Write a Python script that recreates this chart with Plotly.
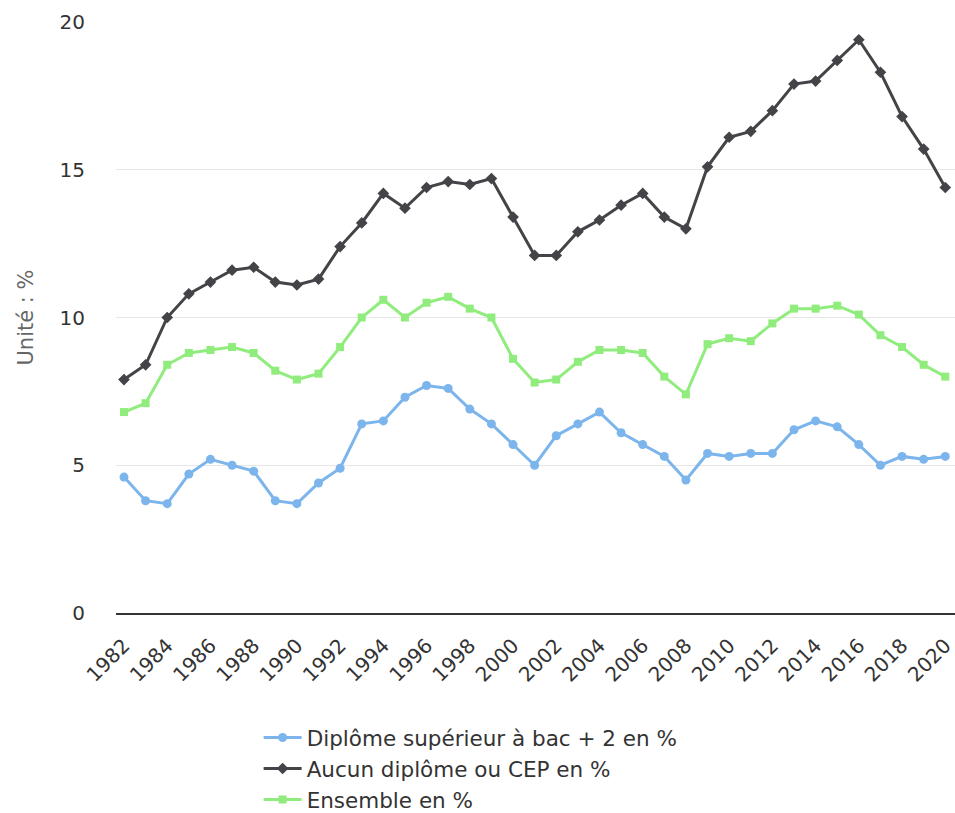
import plotly.graph_objects as go

years = list(range(1982, 2021))
bac2 = [4.6, 3.8, 3.7, 4.7, 5.2, 5.0, 4.8, 3.8, 3.7, 4.4, 4.9, 6.4, 6.5,
        7.3, 7.7, 7.6, 6.9, 6.4, 5.7, 5.0, 6.0, 6.4, 6.8, 6.1, 5.7, 5.3,
        4.5, 5.4, 5.3, 5.4, 5.4, 6.2, 6.5, 6.3, 5.7, 5.0, 5.3, 5.2, 5.3]
aucun = [7.9, 8.4, 10.0, 10.8, 11.2, 11.6, 11.7, 11.2, 11.1, 11.3, 12.4, 13.2, 14.2,
         13.7, 14.4, 14.6, 14.5, 14.7, 13.4, 12.1, 12.1, 12.9, 13.3, 13.8, 14.2, 13.4,
         13.0, 15.1, 16.1, 16.3, 17.0, 17.9, 18.0, 18.7, 19.4, 18.3, 16.8, 15.7, 14.4]
ensemble = [6.8, 7.1, 8.4, 8.8, 8.9, 9.0, 8.8, 8.2, 7.9, 8.1, 9.0, 10.0, 10.6,
            10.0, 10.5, 10.7, 10.3, 10.0, 8.6, 7.8, 7.9, 8.5, 8.9, 8.9, 8.8, 8.0,
            7.4, 9.1, 9.3, 9.2, 9.8, 10.3, 10.3, 10.4, 10.1, 9.4, 9.0, 8.4, 8.0]
tick_years = list(range(1982, 2021, 2))
y_ticks = [0, 5, 10, 15, 20]

FONT = "DejaVu Sans"

fig = go.Figure()
fig.add_trace(go.Scatter(x=years, y=bac2, mode="lines+markers",
                         name="Diplôme supérieur à bac + 2 en %",
                         line=dict(color="#7cb5ec", width=3),
                         marker=dict(symbol="circle", size=9, color="#7cb5ec")))
fig.add_trace(go.Scatter(x=years, y=aucun, mode="lines+markers",
                         name="Aucun diplôme ou CEP en %",
                         line=dict(color="#434348", width=3),
                         marker=dict(symbol="diamond", size=9, color="#434348")))
fig.add_trace(go.Scatter(x=years, y=ensemble, mode="lines+markers",
                         name="Ensemble en %",
                         line=dict(color="#90ed7d", width=3),
                         marker=dict(symbol="square", size=8, color="#90ed7d")))

fig.update_layout(
    width=955, height=813,
    margin=dict(l=116, r=0, t=22, b=200),
    paper_bgcolor="white", plot_bgcolor="white",
    font=dict(family=FONT, color="#333333"),
    showlegend=True,
    legend=dict(orientation="v", x=0.17, xanchor="left",
                yref="container", y=0.118, yanchor="top",
                font=dict(size=21.5, color="#333333"), tracegroupgap=0,
                itemwidth=38),
    xaxis=dict(range=[1981.63, 2020.45], tickmode="array", tickvals=tick_years,
               ticktext=[str(y) for y in tick_years], tickangle=-45,
               tickfont=dict(size=20, color="#333333"), showgrid=False,
               showline=True, linecolor="#333333", linewidth=2, zeroline=False,
               ticks="", automargin=False, ticklabelstandoff=11,
               ticklabeloverflow="allow"),
    yaxis=dict(range=[0, 20], tickmode="array", tickvals=y_ticks,
               tickfont=dict(size=20, color="#333333"),
               gridcolor="#e6e6e6", gridwidth=1, zeroline=False, showline=False,
               ticklabelstandoff=30, automargin=False,
               title=dict(text="Unité : %", font=dict(size=21, color="#666666"),
                          standoff=20)),
)

fig.write_html("out.html", config={"displayModeBar": False},
               post_script="document.body.style.margin='0px';")
